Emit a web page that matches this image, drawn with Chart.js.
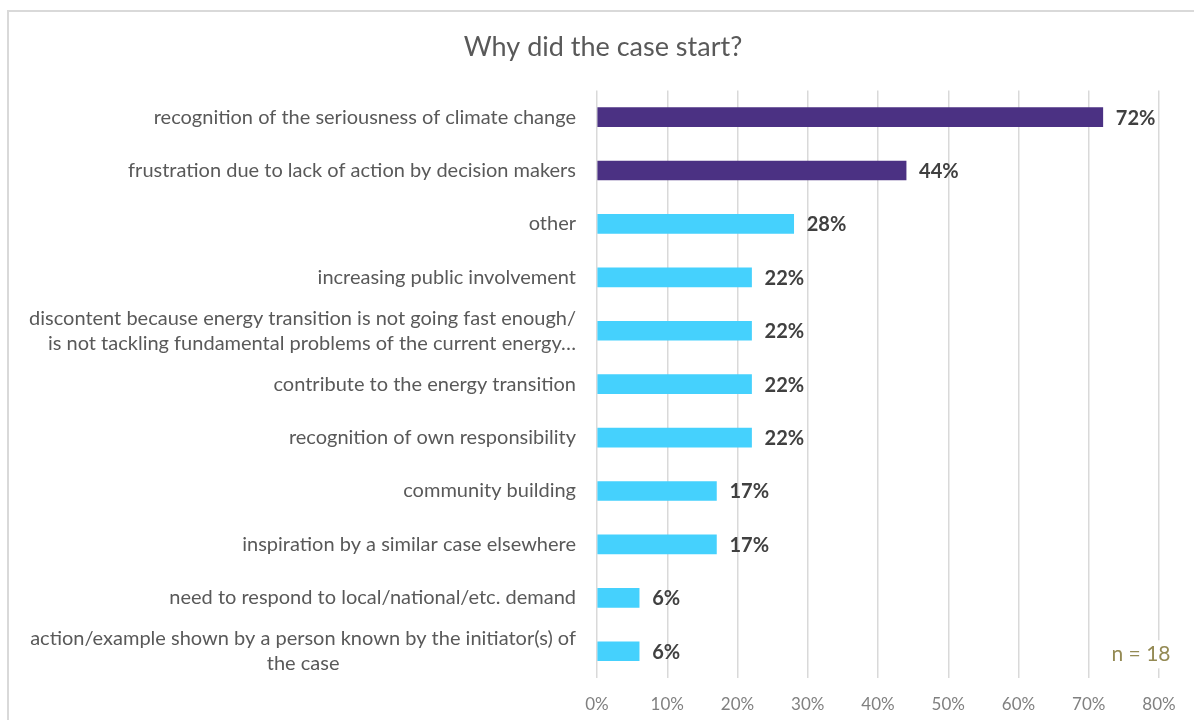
<!DOCTYPE html>
<html>
<head>
<meta charset="utf-8">
<script src="https://cdn.jsdelivr.net/npm/chart.js@4/dist/chart.umd.min.js"></script>
<style>
  body { margin: 0; background: #fff; overflow: hidden; }
  #frame { position: absolute; left: 7px; top: 10px; width: 1300px; height: 800px; border: 2px solid #d9d9d9; }
  #chart { position: absolute; left: 0; top: 0; }
</style>
</head>
<body>
<div id="frame"></div>
<canvas id="chart" width="1194" height="720"></canvas>
<script>
const reasons = [
  ["recognition of the seriousness of climate change"],
  ["frustration due to lack of action by decision makers"],
  ["other"],
  ["increasing public involvement"],
  ["discontent because energy transition is not going fast enough/", "is not tackling fundamental problems of the current energy…"],
  ["contribute to the energy transition"],
  ["recognition of own responsibility"],
  ["community building"],
  ["inspiration by a similar case elsewhere"],
  ["need to respond to local/national/etc. demand"],
  ["action/example shown by a person known by the initiator(s) of", "the case"],
];
const shares = [72, 44, 28, 22, 22, 22, 22, 17, 17, 6, 6];
const barColors = [
  "#4b3183", "#4b3183", "#45d1fd", "#45d1fd", "#45d1fd", "#45d1fd",
  "#45d1fd", "#45d1fd", "#45d1fd", "#45d1fd", "#45d1fd",
];
const sampleNote = "n = 18";

const FONT = "Lato";

// category labels: right aligned, except the last two-line one which Excel centred
const categoryLabels = {
  id: "categoryLabels",
  afterDraw(chart) {
    const ctx = chart.ctx;
    const y = chart.scales.y;
    const right = chart.chartArea.left - 21;
    const lineH = 25;
    ctx.save();
    ctx.font = "20px " + FONT;
    ctx.fillStyle = "#595959";
    ctx.textBaseline = "middle";
    reasons.forEach((lines, i) => {
      const cy = y.getPixelForTick(i);
      const top = cy - (lines.length - 1) * lineH / 2;
      if (i === reasons.length - 1 && lines.length > 1) {
        const w = ctx.measureText(lines[0]).width;
        const cx = right - w / 2;
        ctx.textAlign = "center";
        lines.forEach((t, k) => ctx.fillText(t, cx, top + k * lineH));
      } else {
        ctx.textAlign = "right";
        lines.forEach((t, k) => ctx.fillText(t, right, top + k * lineH));
      }
    });
    ctx.restore();
  },
};

// percent labels at the end of each bar, plus the sample size note
const valueLabels = {
  id: "valueLabels",
  afterDatasetsDraw(chart) {
    const ctx = chart.ctx;
    const meta = chart.getDatasetMeta(0);
    ctx.save();
    ctx.font = "bold 20px " + FONT;
    ctx.fillStyle = "#404040";
    ctx.textAlign = "left";
    ctx.textBaseline = "middle";
    meta.data.forEach((bar, i) => {
      ctx.fillText(shares[i] + "%", bar.x + 13, bar.y + 1);
    });

    ctx.font = "21px " + FONT;
    const w = ctx.measureText(sampleNote).width;
    const cx = chart.scales.x.getPixelForValue(80) - 18;
    const cy = chart.scales.y.getPixelForTick(reasons.length - 1) + 3;
    ctx.fillStyle = "#ffffff";
    ctx.fillRect(cx - w / 2 - 4, cy - 14, w + 8, 28);
    ctx.fillStyle = "#948a54";
    ctx.textAlign = "center";
    ctx.fillText(sampleNote, cx, cy);
    ctx.restore();
  },
};

new Chart(document.getElementById("chart"), {
  type: "bar",
  data: {
    labels: reasons,
    datasets: [
      {
        data: shares,
        backgroundColor: barColors,
        barThickness: 19,
      },
    ],
  },
  options: {
    indexAxis: "y",
    responsive: false,
    animation: false,
    layout: { padding: { left: 47, right: 35, top: 0, bottom: 0 } },
    plugins: {
      legend: { display: false },
      tooltip: { enabled: false },
      title: {
        display: true,
        text: "Why did the case start?",
        color: "#595959",
        font: { family: FONT, size: 27, weight: "normal" },
        padding: { top: 31, bottom: 27 },
      },
    },
    scales: {
      x: {
        min: 0,
        max: 80,
        border: { display: false },
        grid: { color: "#d9d9d9", lineWidth: 1.5, drawTicks: false },
        ticks: {
          stepSize: 10,
          padding: 16,
          color: "#808080",
          font: { family: FONT, size: 17 },
          callback: (v) => v + "%",
        },
        afterFit(scale) {
          scale.height = 42;
        },
      },
      y: {
        border: { display: false },
        grid: { display: false },
        ticks: { display: false },
        afterFit(scale) {
          scale.width = 550;
        },
      },
    },
  },
  plugins: [categoryLabels, valueLabels],
});
</script>
</body>
</html>
